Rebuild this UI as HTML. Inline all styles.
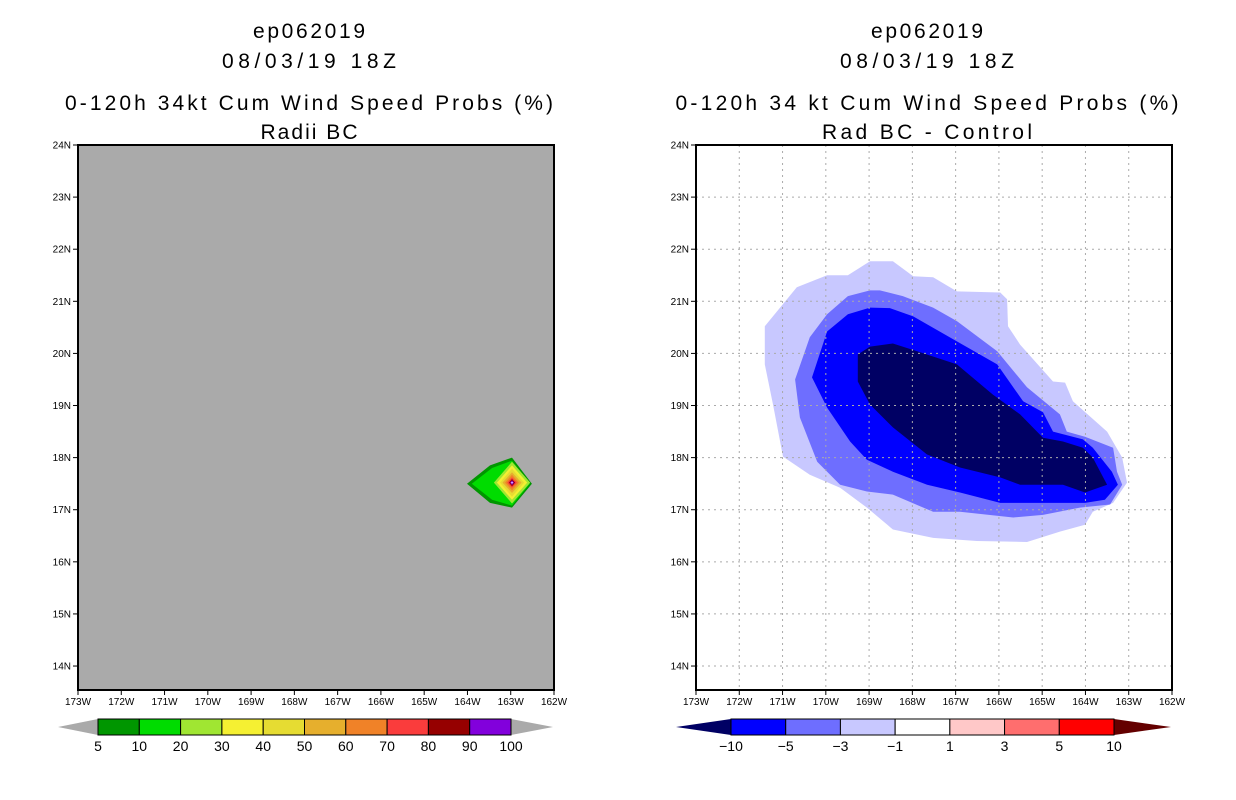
<!DOCTYPE html>
<html><head><meta charset="utf-8">
<style>
html,body{margin:0;padding:0;background:#fff;}
svg{display:block;font-family:"Liberation Sans",sans-serif;}
</style></head>
<body>
<svg id="chart" width="1236" height="800" viewBox="0 0 1236 800" xmlns="http://www.w3.org/2000/svg"></svg>
<script>
// ---- data ----
const lonTicks = [173,172,171,170,169,168,167,166,165,164,163,162];
const latTicks = [14,15,16,17,18,19,20,21,22,23,24];
const leftLevels = ["5","10","20","30","40","50","60","70","80","90","100"];
const leftColors = ["#009600","#00dc00","#a0e632","#f5f032","#e6dc32","#e6af2d","#f08228","#fa3c3c","#960000","#8200dc"];
const rightLevels = ["−10","−5","−3","−1","1","3","5","10"];
const rightColors = ["#0000ff","#6e6eff","#c8c8ff","#ffffff","#ffc8c8","#ff6e6e","#ff0000"];
// left panel: storm wind prob blob (lonW, lat)
const blobOuterLon = [164.01,163.48,162.97,162.51,162.97,163.48];
const blobOuterLat = [17.5,17.85,18.0,17.5,17.04,17.13];
const blobInnerLon = [163.9,163.43,162.97,162.56,162.97,163.43];
const blobInnerLat = [17.5,17.8,17.94,17.5,17.08,17.19];
const blobCenter = [162.97,17.52];
const diamondRx = [0.42,0.35,0.28,0.22,0.16,0.11,0.07,0.045,0.02];
const diamondRy = [0.40,0.33,0.27,0.20,0.15,0.10,0.07,0.045,0.02];
const diamondColors = ["#a0e632","#f5f032","#e6dc32","#e6af2d","#f08228","#fa3c3c","#960000","#8200dc","#ffffff"];
// right panel: difference contours (lonW, lat)
const cm1Lon=[171.41,170.67,169.97,169.49,168.98,168.45,167.98,167.52,166.97,165.97,165.81,165.79,165.51,164.75,164.47,164.29,163.50,163.15,163.04,163.36,163.83,164.01,164.59,165.35,166.51,167.52,168.45,169.05,169.67,170.37,170.99,171.22,171.41];
const cm1Lat=[20.52,21.27,21.50,21.50,21.77,21.77,21.48,21.46,21.19,21.17,21.04,20.52,20.17,19.46,19.44,19.08,18.50,18.00,17.52,17.13,16.96,16.71,16.58,16.38,16.40,16.46,16.62,17.04,17.42,17.67,18.02,19.02,19.79];
const cm3Lon=[170.71,170.37,169.97,169.49,168.98,168.75,168.22,167.52,166.97,166.04,165.35,164.59,164.43,164.01,163.36,163.27,163.15,163.43,164.13,164.98,165.67,166.90,167.52,168.45,169.05,169.67,170.20,170.60];
const cm3Lat=[19.50,20.31,20.75,21.10,21.21,21.21,21.10,20.88,20.62,20.04,19.35,18.83,18.50,18.40,18.19,17.73,17.48,17.10,17.04,16.90,16.85,16.96,16.96,17.29,17.35,17.48,17.92,18.77];
const cm5Lon=[170.32,169.97,169.49,168.98,168.52,167.98,166.97,166.04,165.44,164.98,164.75,164.06,163.83,163.39,163.25,163.55,164.01,164.98,165.97,166.90,167.66,168.45,169.05,169.44,169.97];
const cm5Lat=[19.54,20.42,20.75,20.88,20.87,20.71,20.23,19.79,19.08,18.87,18.50,18.35,18.19,17.73,17.48,17.19,17.13,17.13,17.13,17.33,17.48,17.73,17.96,18.31,18.96];
const cm10Lon=[169.26,169.26,168.98,168.45,167.89,166.97,166.14,165.51,164.98,164.52,164.06,163.83,163.50,164.01,164.52,165.51,165.97,166.90,167.66,168.45,168.98];
const cm10Lat=[19.46,19.98,20.13,20.19,20.04,19.79,19.21,18.83,18.38,18.31,18.19,18.00,17.48,17.33,17.48,17.48,17.62,17.81,18.06,18.58,19.02];

// ---- layout ----
const NS="http://www.w3.org/2000/svg";
const svg=document.getElementById('chart');
function el(tag,attrs,parent){const e=document.createElementNS(NS,tag);for(const k in attrs)e.setAttribute(k,attrs[k]);(parent||svg).appendChild(e);return e;}
const PT=145, PB=690, LAT0=13.54, LAT1=24.0;
function yS(lat){return PB-(lat-LAT0)/(LAT1-LAT0)*(PB-PT);}
function makeX(x0,x1){return lonW=>x0+(173-lonW)/11*(x1-x0);}

function titles(cx,l3,l4,lens,name){
  const g=el('g',{});
  
  
  const lines=[["ep062019",38],["08/03/19 18Z",68],[l3,110],[l4,139]];
  lines.forEach(([t,y],i)=>{const tx=el('text',{x:cx,y:y,'text-anchor':'middle','font-size':'21','fill':'#000',textLength:lens[i],lengthAdjust:'spacing'},g);tx.textContent=t;});
}
function panel(x0,x1,bg,grid,name){
  const xS=makeX(x0,x1);
  const g=el('g',{});
  
  
  el('rect',{x:x0,y:PT,width:x1-x0,height:PB-PT,fill:bg},g);
  return {g,xS};
}
function axes(p,x0,x1,grid){
  const g=p.g;
  if(grid){
    lonTicks.forEach(l=>{const x=p.xS(l);if(x>x0+1&&x<x1-1)el('line',{x1:x,x2:x,y1:PT,y2:PB,stroke:'#aaa','stroke-dasharray':'2,4','stroke-width':1},g);});
    latTicks.forEach(l=>{const y=yS(l);if(y>PT+1)el('line',{x1:x0,x2:x1,y1:y,y2:y,stroke:'#aaa','stroke-dasharray':'2,4','stroke-width':1},g);});
  }
  el('rect',{x:x0,y:PT,width:x1-x0,height:PB-PT,fill:'none',stroke:'#000','stroke-width':2},g);
  lonTicks.forEach(l=>{const x=p.xS(l);
    el('line',{x1:x,x2:x,y1:PB,y2:PB+5,stroke:'#000'},g);
    const t=el('text',{x:x,y:PB+15,'text-anchor':'middle','font-size':'10'},g);t.textContent=l+'W';
    });
  latTicks.forEach(l=>{const y=yS(l);
    el('line',{x1:x0-5,x2:x0,y1:y,y2:y,stroke:'#000'},g);
    const t=el('text',{x:x0-7,y:y+3.5,'text-anchor':'end','font-size':'10'},g);t.textContent=l+'N';
    });
}
function poly(p,lons,lats,fill,name){
  const pts=lons.map((l,i)=>p.xS(l).toFixed(1)+','+yS(lats[i]).toFixed(1)).join(' ');
  const e=el('polygon',{points:pts,fill:fill},p.g);
  
  
}
function colorbar(x0,x1,tl,tr,colors,leftTri,rightTri,labels,name){
  const g=el('g',{});
  
  
  const y0=719,y1=735,ym=727;
  el('polygon',{points:`${tl},${ym} ${x0},${y0} ${x0},${y1}`,fill:leftTri},g);
  el('polygon',{points:`${x1},${y0} ${tr},${ym} ${x1},${y1}`,fill:rightTri},g);
  const w=(x1-x0)/colors.length;
  colors.forEach((c,i)=>{const r=el('rect',{x:x0+i*w,y:y0,width:w,height:y1-y0,fill:c,stroke:'#000','stroke-width':1},g);
    });
  labels.forEach((s,i)=>{const t=el('text',{x:x0+i*w,y:751,'text-anchor':'middle','font-size':'14'},g);t.textContent=s;});
}

// ---- left panel ----
titles(309,"0-120h 34kt Cum Wind Speed Probs (%)","Radii BC",[112,174,488,97],'left-title');
const L=panel(78,554,'#aaaaaa',false,'left-map');
poly(L,blobOuterLon,blobOuterLat,'#009600','prob-5-10');
poly(L,blobInnerLon,blobInnerLat,'#00dc00','prob-10-20');
diamondRx.forEach((rx,i)=>{
  const cl=blobCenter[0],ct=blobCenter[1],ry=diamondRy[i];
  poly(L,[cl+rx,cl,cl-rx,cl],[ct,ct+ry,ct,ct-ry],diamondColors[i],'prob-diamond');
});
axes(L,78,554,false);
colorbar(98,511,58,553,leftColors,'#aaaaaa','#aaaaaa',leftLevels,'left-colorbar');

// ---- right panel ----
titles(927,"0-120h 34 kt Cum Wind Speed Probs (%)","Rad BC - Control",[112,174,503,210],'right-title');
const R=panel(696,1172,'#ffffff',true,'right-map');
poly(R,cm1Lon,cm1Lat,'#c8c8ff','diff-minus1');
poly(R,cm3Lon,cm3Lat,'#6e6eff','diff-minus3');
poly(R,cm5Lon,cm5Lat,'#0000ff','diff-minus5');
poly(R,cm10Lon,cm10Lat,'#000064','diff-minus10');
axes(R,696,1172,true);
colorbar(731,1114,676,1171,rightColors,'#000064','#640000',rightLevels,'right-colorbar');
</script>
</body></html>
